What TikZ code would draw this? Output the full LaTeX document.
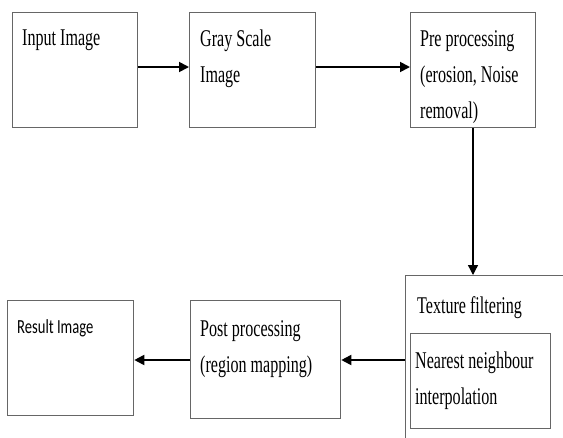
\documentclass[tikz,border=0pt]{standalone}
\usepackage{fontspec}
\setmainfont{Liberation Serif}[FakeStretch=0.67]
\newfontfamily\calib{Carlito}[FakeStretch=0.73]
\usetikzlibrary{arrows.meta}
\begin{document}
\begin{tikzpicture}[x=1pt,y=-1pt,
  boxstyle/.style={draw=black!60,line width=1.3pt,inner sep=0pt,anchor=north west},
  txt/.style={anchor=base west,inner sep=0pt,align=left,font=\fontsize{24}{36}\selectfont},
  conn/.style={draw=black,line width=1.8pt,-{Triangle[length=10pt,width=10pt]}}]
\useasboundingbox (0,0) rectangle (563,437);
\clip (0,0) rectangle (563,437);
% top row
\node[boxstyle,minimum width=125pt,minimum height=115pt] (b1) at (12,12) {};
\node[boxstyle,minimum width=126pt,minimum height=115pt] (b2) at (189,12) {};
\node[boxstyle,minimum width=125pt,minimum height=115pt] (b3) at (410,12) {};
\node[txt] (t1) at (22,45) {Input Image};
\node[txt] (t2) at (200,82) {Gray Scale\\Image};
\node[txt] (t3) at (420,118) {Pre processing\\(erosion, Noise\\removal)};
% bottom row
\node[boxstyle,minimum width=200pt,minimum height=200pt] (b4) at (405,275) {};
\node[boxstyle,minimum width=140pt,minimum height=95pt] (b4i) at (410,333) {};
\node[boxstyle,minimum width=150pt,minimum height=118pt] (b5) at (190,300) {};
\node[boxstyle,minimum width=126pt,minimum height=115pt] (b6) at (7,300) {};
\node[txt] (t4) at (417,313) {Texture filtering};
\node[txt] (t4i) at (415,404) {Nearest neighbour\\interpolation};
\node[txt] (t5) at (200,372) {Post processing\\(region mapping)};
\node[anchor=base west,inner sep=0pt,font=\calib\fontsize{20}{24}\selectfont] (t6) at (17,333) {Result Image};
% connectors
\coordinate (a1) at (b1.east |- 0,67);
\draw[conn] (b1.east |- a1) -- (b2.west |- a1);
\draw[conn] (b2.east |- a1) -- (b3.west |- a1);
\coordinate (v) at (473,0);
\draw[conn,line width=1.3pt] (b3.south -| v) -- (b4.north -| v);
\coordinate (a2) at (0,360);
\draw[conn] (b4.west |- a2) -- (b5.east |- a2);
\draw[conn] (b5.west |- a2) -- (b6.east |- a2);
\end{tikzpicture}
\end{document}
